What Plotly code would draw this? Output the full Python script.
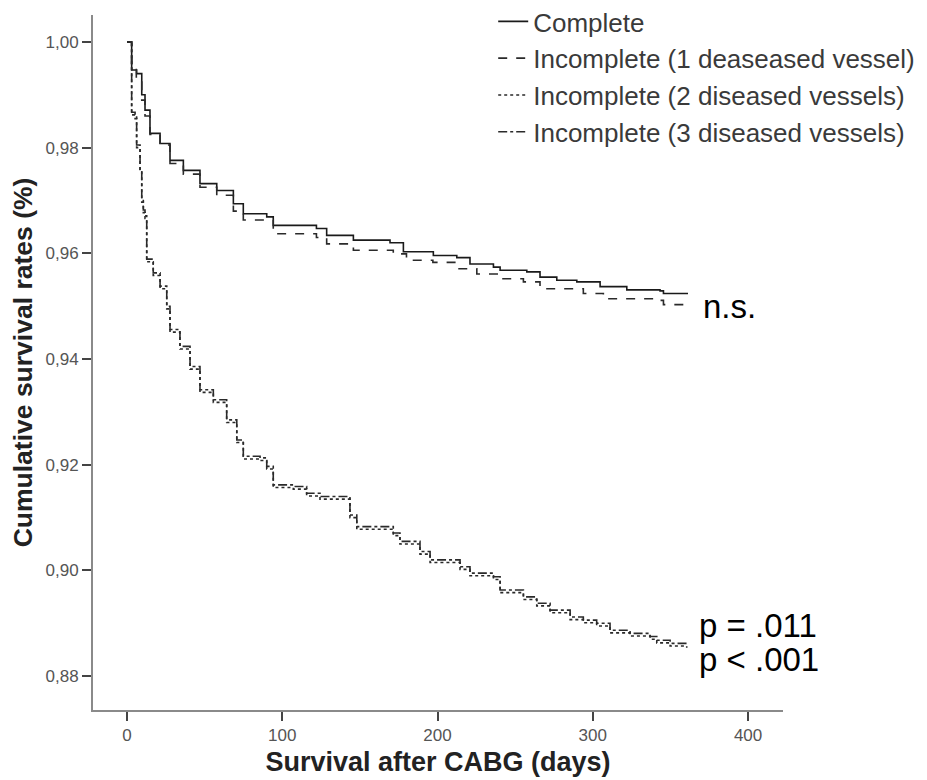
import plotly.graph_objects as go

# ---- data ----
days_complete = [0, 3, 6.2, 9.5, 11.6, 14.8, 21.3, 27.7, 36.3, 47, 57.8, 68.5, 74.9, 90, 94.2,
                 122, 128.6, 145.8, 169.4, 178, 197.3, 212.4, 220.9, 236, 240.3, 257.5, 266,
                 276.8, 289.7, 304.7, 321.9, 343.3, 345.5, 361.3]
surv_complete = [1.000, 0.9947, 0.9940, 0.9900, 0.9871, 0.9827, 0.9808, 0.9776, 0.9757, 0.9732,
                 0.9719, 0.9694, 0.9675, 0.9669, 0.9653, 0.9647, 0.9634, 0.9625, 0.9620, 0.9603,
                 0.9596, 0.9592, 0.9580, 0.9574, 0.9568, 0.9565, 0.9555, 0.9549, 0.9546, 0.9537,
                 0.9531, 0.9529, 0.9524, 0.9524]

days_inc1 = [0, 3, 6, 9.5, 11.6, 14.8, 21.3, 27.7, 36.3, 47, 57.8, 68.5, 74.9, 94.2, 122, 128.6,
             145.8, 171.5, 180, 197, 212.4, 225.3, 240.3, 255.3, 266, 293.9, 306.8, 343.3, 345.5, 361.3]
surv_inc1 = [1.000, 0.9950, 0.9930, 0.9890, 0.9860, 0.9825, 0.9805, 0.9770, 0.9750, 0.9725,
             0.9710, 0.9680, 0.9663, 0.9637, 0.9630, 0.9618, 0.9606, 0.9599, 0.9587, 0.9583,
             0.9571, 0.9561, 0.9552, 0.9546, 0.9533, 0.9524, 0.9514, 0.9511, 0.9503, 0.9503]

days_inc2 = [0, 3, 5.2, 6.2, 8.4, 9.5, 10.5, 11.6, 12.7, 16.9, 21.3, 25.6, 27.7, 34.1, 40.6, 47,
             55.6, 64.2, 70.7, 74.9, 85.7, 90, 94.2, 107.1, 115.7, 124.3, 143.6, 148, 171.5,
             175.8, 188.7, 195.2, 214.5, 220.9, 236, 240.3, 255.3, 263.9, 272.5, 285.4, 293.9,
             302.5, 311.1, 324, 336.9, 341.2, 349.8, 360.5]
surv_inc2 = [1.000, 0.9862, 0.9855, 0.9800, 0.9754, 0.9697, 0.9677, 0.9666, 0.9584, 0.9558,
             0.9533, 0.9495, 0.9451, 0.9419, 0.9381, 0.9337, 0.9318, 0.9280, 0.9242, 0.9211,
             0.9208, 0.9192, 0.9157, 0.9154, 0.9141, 0.9135, 0.9100, 0.9078, 0.9066, 0.9050,
             0.9031, 0.9015, 0.9002, 0.8990, 0.8983, 0.8958, 0.8945, 0.8933, 0.8920, 0.8907,
             0.8901, 0.8895, 0.8882, 0.8876, 0.8870, 0.8863, 0.8857, 0.8854]

days_inc3 = [0, 3, 5.2, 6.2, 8.4, 9.5, 10.5, 11.6, 12.7, 16.9, 21.3, 25.6, 27.7, 34.1, 40.6, 47,
             55.6, 64.2, 70.7, 74.9, 85.7, 90, 94.2, 107.1, 115.7, 124.3, 143.6, 148, 171.5,
             175.8, 188.7, 195.2, 214.5, 220.9, 236, 240.3, 255.3, 263.9, 272.5, 285.4, 293.9,
             302.5, 311.1, 324, 336.9, 341.2, 349.8, 360.5]
surv_inc3 = [1.000, 0.9867, 0.9860, 0.9805, 0.9759, 0.9702, 0.9682, 0.9671, 0.9589, 0.9563,
             0.9538, 0.9500, 0.9456, 0.9424, 0.9386, 0.9342, 0.9323, 0.9285, 0.9247, 0.9216,
             0.9213, 0.9197, 0.9162, 0.9159, 0.9146, 0.9140, 0.9105, 0.9083, 0.9071, 0.9055,
             0.9036, 0.9020, 0.9007, 0.8995, 0.8988, 0.8963, 0.8950, 0.8938, 0.8925, 0.8912,
             0.8906, 0.8900, 0.8887, 0.8881, 0.8875, 0.8868, 0.8862, 0.8859]

names = ["Complete", "Incomplete (1 deaseased vessel)",
         "Incomplete (2 diseased vessels)", "Incomplete (3 diseased vessels)"]
x_ticks = [0, 100, 200, 300, 400]
y_ticks = [0.88, 0.90, 0.92, 0.94, 0.96, 0.98, 1.00]
annotations_text = ["n.s.", "p = .011", "p < .001"]

# ---- figure ----
fig = go.Figure()
series = [(days_complete, surv_complete, "solid", "#1a1a1a"),
          (days_inc1, surv_inc1, "dash", "#2a2a2a"),
          (days_inc2, surv_inc2, "dot", "#2a2a2a"),
          (days_inc3, surv_inc3, "dashdot", "#2a2a2a")]
for (dx, sy, dash, col), nm in zip(series, names):
    fig.add_trace(go.Scatter(x=dx, y=sy, mode="lines", name=nm,
                             line=dict(shape="hv", dash=dash, color=col, width=1.6)))

ann_font = dict(family="Liberation Sans, Arial, sans-serif", size=33, color="#000")
fig.add_annotation(x=0.881, y=0.581, xref="paper", yref="paper", text=annotations_text[0],
                   showarrow=False, xanchor="left", yanchor="middle", font=ann_font)
fig.add_annotation(x=0.875, y=0.122, xref="paper", yref="paper", text=annotations_text[1],
                   showarrow=False, xanchor="left", yanchor="middle", font=ann_font)
fig.add_annotation(x=0.875, y=0.072, xref="paper", yref="paper", text=annotations_text[2],
                   showarrow=False, xanchor="left", yanchor="middle", font=ann_font)

axis_col = "#8a8a8a"
fig.update_layout(
    width=927, height=780,
    # the page body adds an 8px offset, so margins are reduced accordingly on top/left
    margin=dict(l=85, r=152, t=7, b=78, autoexpand=False),
    paper_bgcolor="white", plot_bgcolor="white",
    separators=",.",
    font=dict(family="Liberation Sans, Arial, sans-serif", color="#333"),
    showlegend=True,
    legend=dict(x=0.580, y=1.0245, xanchor="left", yanchor="top",
                font=dict(size=26, color="#3a3a3a"), bgcolor="rgba(0,0,0,0)",
                itemwidth=30, tracegroupgap=0),
    xaxis=dict(range=[-21.9, 422.5], tickvals=x_ticks, showgrid=False, zeroline=False,
               automargin=False,
               showline=True, linecolor=axis_col, linewidth=2, ticks="outside",
               ticklen=9, tickwidth=2, tickcolor="#444",
               tickfont=dict(size=17, color="#555"),
               title=dict(text="<b>Survival after CABG (days)</b>",
                          font=dict(size=27, color="#222"), standoff=8)),
    yaxis=dict(range=[0.8736, 1.0051], tickvals=y_ticks, tickformat=".2f", showgrid=False,
               automargin=False,
               zeroline=False, showline=True, linecolor=axis_col, linewidth=2,
               ticks="outside", ticklen=9, tickwidth=2, tickcolor="#444",
               tickfont=dict(size=17, color="#555"),
               title=dict(text="<b>Cumulative survival rates (%)</b>",
                          font=dict(size=26.5, color="#222"), standoff=8)),
)

fig.write_html("out.html")
